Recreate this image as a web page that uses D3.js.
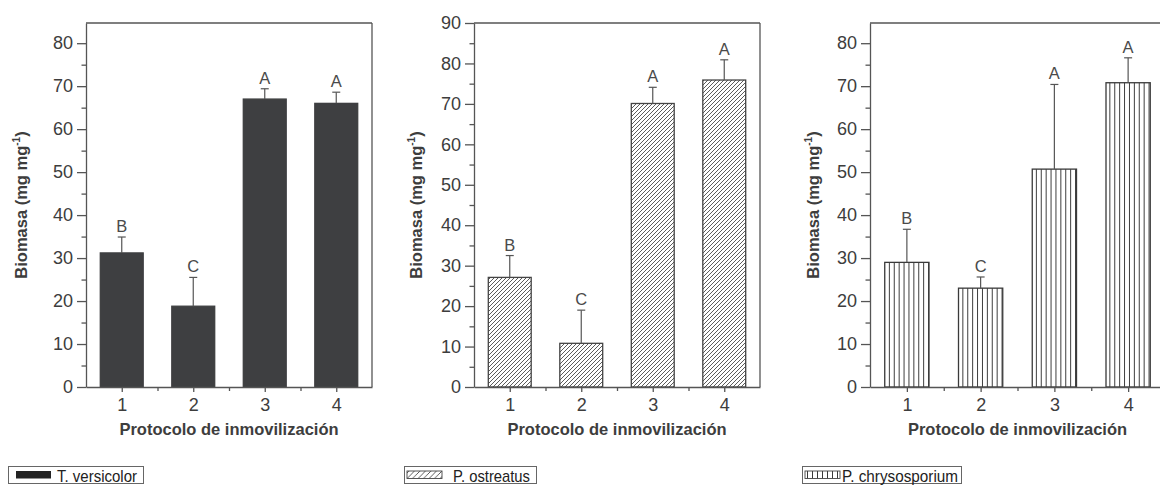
<!DOCTYPE html>
<html>
<head>
<meta charset="utf-8">
<script src="https://cdn.jsdelivr.net/npm/d3@7"></script>
<style>
  html, body { margin: 0; padding: 0; background: #fff; }
  svg { display: block; }
</style>
</head>
<body>
<svg id="chart" width="1160" height="485"></svg>
<script>
// Immobilisation protocols (x categories)
const categories = [1, 2, 3, 4];
const speciesNames = ["T. versicolor", "P. ostreatus", "P. chrysosporium"];

// Biomass means and standard deviations (mg mg-1) for each fungus
const versicolorMeans = [31.2, 18.8, 67.0, 66.0];
const versicolorSD    = [3.7, 6.7, 2.4, 2.6];
const ostreatusMeans  = [27.1, 10.8, 70.1, 75.9];
const ostreatusSD     = [5.4, 8.2, 4.0, 5.0];
const chrysoMeans     = [29.0, 23.0, 50.7, 70.8];
const chrysoSD        = [7.7, 2.6, 19.7, 5.8];

// Significance groups (Tukey letters)
const versicolorLetters = ["B", "C", "A", "A"];
const ostreatusLetters  = ["B", "C", "A", "A"];
const chrysoLetters     = ["B", "C", "A", "A"];

// Y axis extents and tick labels
const yAxisMax   = [84.7, 90, 84.7];
const yTicks80   = [0, 10, 20, 30, 40, 50, 60, 70, 80];
const yTicks90   = [0, 10, 20, 30, 40, 50, 60, 70, 80, 90];

const xTitle = "Protocolo de inmovilización";

const FONT = "'Liberation Sans', Arial, Helvetica, sans-serif";
const AXIS = "#555";
const INK = "#3d3d3d";
const TOP = 23, BOTTOM = 387;

const svg = d3.select("#chart");
const defs = svg.append("defs");

// diagonal hatch for P. ostreatus
function diagHatch(id, s) {
  const p = defs.append("pattern").attr("id", id)
    .attr("patternUnits", "userSpaceOnUse").attr("width", s).attr("height", s);
  p.append("rect").attr("width", s).attr("height", s).attr("fill", "#fff");
  p.append("path")
    .attr("d", `M0,${s} L${s},0 M${-s/4},${s/4} L${s/4},${-s/4} M${s*3/4},${s*5/4} L${s*5/4},${s*3/4}`)
    .attr("stroke", "#4a4a4a").attr("stroke-width", 0.9);
}
// vertical stripes for P. chrysosporium
function vStripes(id, s) {
  const p = defs.append("pattern").attr("id", id)
    .attr("patternUnits", "userSpaceOnUse").attr("width", s).attr("height", 10);
  p.append("rect").attr("width", s).attr("height", 10).attr("fill", "#fff");
  p.append("line").attr("x1", s / 2).attr("x2", s / 2).attr("y1", 0).attr("y2", 10)
    .attr("stroke", "#3a3a3a").attr("stroke-width", 1);
}
diagHatch("hatchBar", 4);
diagHatch("hatchKey", 5.5);
vStripes("stripeBar", 4.9);
vStripes("stripeKey", 5);

const panels = [
  { name: speciesNames[0], means: versicolorMeans, sd: versicolorSD, letters: versicolorLetters,
    yMax: yAxisMax[0], yTicks: yTicks80, x0: 86, x1: 372, titleX: 27,
    fill: "#3e3f41", stroke: "#3e3f41", keyFill: "#232323",
    key: { box: [8, 143], sw: [16, 51], tx: 57, tw: 80 } },
  { name: speciesNames[1], means: ostreatusMeans, sd: ostreatusSD, letters: ostreatusLetters,
    yMax: yAxisMax[1], yTicks: yTicks90, x0: 474, x1: 760, titleX: 422,
    fill: "url(#hatchBar)", stroke: "#444", keyFill: "url(#hatchKey)",
    key: { box: [404, 536], sw: [407, 442], tx: 453, tw: 77 } },
  { name: speciesNames[2], means: chrysoMeans, sd: chrysoSD, letters: chrysoLetters,
    yMax: yAxisMax[2], yTicks: yTicks80, x0: 870, x1: 1165, titleX: 819,
    fill: "url(#stripeBar)", stroke: "#3a3a3a", keyFill: "url(#stripeKey)",
    key: { box: [802, 961], sw: [805, 840], tx: 842, tw: 116 } }
];

panels.forEach(p => {
  const g = svg.append("g");
  const x = d3.scaleLinear().domain([0.5, 4.5]).range([p.x0, p.x1]);
  const y = d3.scaleLinear().domain([0, p.yMax]).range([BOTTOM, TOP]);
  const bw = 0.6 * (x(2) - x(1));
  const rows = categories.map((c, i) => ({ c, m: p.means[i], sd: p.sd[i], letter: p.letters[i] }));

  // bars
  g.selectAll("rect.bar").data(rows).join("rect")
    .attr("class", "bar")
    .attr("x", d => x(d.c) - bw / 2)
    .attr("y", d => y(d.m))
    .attr("width", bw)
    .attr("height", d => y(0) - y(d.m))
    .attr("fill", p.fill)
    .attr("stroke", p.stroke)
    .attr("stroke-width", 1.3);

  // upper error bars
  const eb = g.selectAll("g.err").data(rows).join("g").attr("class", "err")
    .attr("stroke", AXIS).attr("stroke-width", 1.2);
  eb.append("line")
    .attr("x1", d => x(d.c)).attr("x2", d => x(d.c))
    .attr("y1", d => y(d.m)).attr("y2", d => y(d.m + d.sd));
  eb.append("line")
    .attr("x1", d => x(d.c) - 4).attr("x2", d => x(d.c) + 4)
    .attr("y1", d => y(d.m + d.sd)).attr("y2", d => y(d.m + d.sd));

  // group letters
  g.selectAll("text.letter").data(rows).join("text")
    .attr("class", "letter")
    .attr("x", d => x(d.c))
    .attr("y", d => y(d.m + d.sd) - 5)
    .attr("text-anchor", "middle")
    .attr("font-family", FONT).attr("font-size", 16.5)
    .attr("fill", "#4a4a4a")
    .text(d => d.letter);

  // frame: top and right spines
  g.append("line").attr("x1", p.x0).attr("x2", p.x1).attr("y1", TOP).attr("y2", TOP)
    .attr("stroke", AXIS).attr("stroke-width", 1.3);
  g.append("line").attr("x1", p.x1).attr("x2", p.x1).attr("y1", TOP).attr("y2", BOTTOM)
    .attr("stroke", AXIS).attr("stroke-width", 1.3);

  // y axis: major ticks with labels, minor ticks between
  const yMinor = p.yTicks.slice(0, -1).map(v => v + 5).filter(v => v < p.yMax);
  if (p.yMax - p.yTicks[p.yTicks.length - 1] > 5) yMinor.push(p.yTicks[p.yTicks.length - 1] + 5);
  const ya = g.append("g").attr("transform", `translate(${p.x0},0)`)
    .call(d3.axisLeft(y).tickValues(p.yTicks).tickSize(9).tickPadding(4).tickSizeOuter(0));
  const yb = g.append("g").attr("transform", `translate(${p.x0},0)`)
    .call(d3.axisLeft(y).tickValues(yMinor).tickSize(4.5).tickFormat("").tickSizeOuter(0));
  yb.select(".domain").remove();

  // x axis: category ticks and minor ticks midway
  const xa = g.append("g").attr("transform", `translate(0,${BOTTOM})`)
    .call(d3.axisBottom(x).tickValues(categories).tickSize(5).tickPadding(6)
      .tickFormat(d3.format("d")).tickSizeOuter(0));
  const xb = g.append("g").attr("transform", `translate(0,${BOTTOM})`)
    .call(d3.axisBottom(x).tickValues(categories.slice(0, -1).map(c => c + 0.5))
      .tickSize(4).tickFormat("").tickSizeOuter(0));
  xb.select(".domain").remove();

  [ya, yb, xa, xb].forEach(a => {
    a.selectAll(".domain, .tick line").attr("stroke", AXIS).attr("stroke-width", 1.3);
    a.selectAll("text").attr("font-family", FONT).attr("font-size", 18).attr("fill", INK);
  });

  // axis titles
  g.append("text")
    .attr("x", (p.x0 + Math.min(p.x1, 1165)) / 2)
    .attr("y", 435)
    .attr("text-anchor", "middle")
    .attr("font-family", FONT).attr("font-size", 16.5).attr("font-weight", "bold")
    .attr("fill", INK)
    .text(xTitle);

  const yt = g.append("text")
    .attr("transform", `translate(${p.titleX},${(TOP + BOTTOM) / 2}) rotate(-90)`)
    .attr("text-anchor", "middle")
    .attr("font-family", FONT).attr("font-size", 16.5).attr("font-weight", "bold")
    .attr("fill", INK);
  yt.append("tspan").text("Biomasa (mg mg");
  yt.append("tspan").attr("font-size", 10).attr("dy", -7).text("-1");
  yt.append("tspan").attr("dy", 7).text(")");

  // legend key
  const k = p.key;
  const key = svg.append("g");
  key.append("rect")
    .attr("x", k.box[0] + 0.5).attr("y", 466.5)
    .attr("width", k.box[1] - k.box[0]).attr("height", 17)
    .attr("fill", "#fff").attr("stroke", "#666").attr("stroke-width", 1);
  key.append("rect")
    .attr("x", k.sw[0]).attr("y", 471)
    .attr("width", k.sw[1] - k.sw[0]).attr("height", 7.5)
    .attr("fill", p.keyFill)
    .attr("stroke", p.keyFill.startsWith("url") ? "#444" : "none")
    .attr("stroke-width", 0.9);
  key.append("text")
    .attr("x", k.tx).attr("y", 481.5)
    .attr("font-family", FONT).attr("font-size", 17)
    .attr("fill", "#222")
    .attr("textLength", k.tw).attr("lengthAdjust", "spacingAndGlyphs")
    .text(p.name);
});
</script>
</body>
</html>
